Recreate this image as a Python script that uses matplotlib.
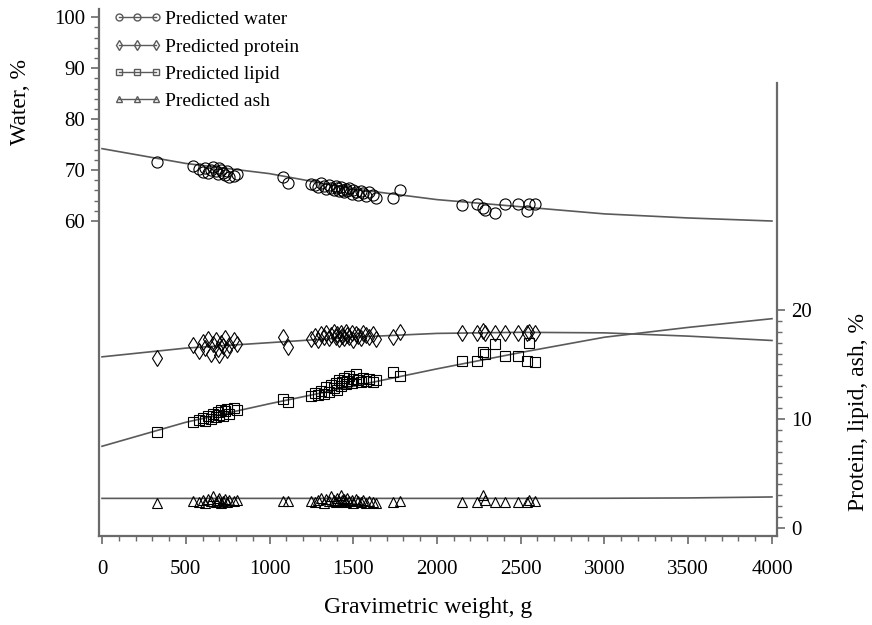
import matplotlib.pyplot as plt
from matplotlib.lines import Line2D
from matplotlib.ticker import FixedLocator

plt.rcParams['font.family'] = ['Liberation Serif', 'DejaVu Serif']

# fish weights (g), shared by all four components
weights = [330,
           545, 580, 600, 615, 630, 650, 665, 680, 690, 700, 710, 720, 735, 745, 760, 790, 805,
           1079, 1110,
           1245, 1270, 1290, 1310, 1325, 1340, 1355, 1370, 1385, 1395, 1405, 1415, 1425, 1435,
           1445, 1455, 1465, 1475, 1490, 1500, 1515, 1530, 1545, 1560, 1575, 1595, 1615, 1635,
           1737, 1779,
           2147, 2241, 2277, 2287, 2346, 2406, 2486, 2540, 2552, 2585]

water = [71.6,
         70.8, 70.3, 69.6, 70.5, 69.4, 70.1, 70.6, 69.8, 69.2, 70.4, 70.0, 69.5, 69.0, 69.9, 68.6, 68.9, 69.3,
         68.7, 67.5,
         67.2, 67.0, 66.6, 67.4, 66.8, 66.3, 67.0, 66.5, 66.0, 66.9, 66.4, 65.8, 66.6, 66.1,
         65.6, 66.3, 65.9, 66.5, 65.4, 66.0, 65.7, 65.2, 65.9, 65.5, 64.9, 65.6, 65.1, 64.6,
         64.5, 66.0,
         63.1, 63.3, 62.5, 62.2, 61.5, 63.3, 63.3, 62.0, 63.3, 63.3]

protein = [15.6,
           16.8, 16.2, 17.1, 16.5, 17.3, 16.0, 16.9, 17.2, 16.4, 15.9, 17.0, 16.7, 17.4, 16.3, 16.8, 17.2, 16.9,
           17.5, 16.6,
           17.3, 17.6, 17.2, 17.8, 17.5, 17.9, 17.4, 17.7, 18.0, 17.5, 17.8, 17.3, 17.9, 17.6,
           17.4, 18.0, 17.7, 17.5, 17.9, 17.2, 17.8, 17.6, 17.4, 17.9, 17.7, 17.5, 17.8, 17.3,
           17.5, 18.0,
           17.9, 17.9, 18.1, 17.9, 17.9, 17.9, 17.9, 17.9, 18.0, 17.9]

lipid = [8.8,
         9.7, 9.9, 10.1, 9.8, 10.3, 10.0, 10.5, 10.2, 10.6, 10.4, 10.8, 10.3, 10.7, 10.9, 10.5, 11.0, 10.8,
         11.8, 11.6,
         12.1, 12.4, 12.2, 12.6, 12.3, 12.9, 12.5, 13.1, 12.8, 13.3, 12.7, 13.6, 13.0, 13.4,
         13.8, 13.2, 13.5, 13.9, 13.3, 13.7, 14.1, 13.6, 13.4, 13.8, 13.5, 13.7, 13.4, 13.6,
         14.3, 13.9,
         15.3, 15.3, 16.1, 16.0, 16.9, 15.8, 15.8, 15.3, 17.0, 15.2]

ash = [2.3,
       2.5, 2.4, 2.6, 2.3, 2.7, 2.5, 2.9, 2.4, 2.6, 2.8, 2.3, 2.5, 2.7, 2.4, 2.6, 2.5, 2.6,
       2.5, 2.5,
       2.5, 2.4, 2.6, 2.8, 2.3, 2.7, 2.5, 2.9, 2.6, 2.4, 2.8, 2.5, 3.0, 2.6,
       2.7, 2.4, 2.8, 2.5, 2.6, 2.3, 2.7, 2.5, 2.4, 2.6, 2.3, 2.5, 2.4, 2.3,
       2.4, 2.5,
       2.4, 2.4, 3.0, 2.6, 2.4, 2.4, 2.4, 2.4, 2.6, 2.5]

# predicted curves
grid = [0, 500, 1000, 1500, 2000, 2500, 3000, 3500, 4000]
pred_water = [74.2, 71.3, 69.3, 66.3, 64.2, 62.8, 61.4, 60.6, 60.0]
pred_protein = [15.7, 16.5, 17.0, 17.5, 17.85, 17.95, 17.9, 17.6, 17.2]
pred_lipid = [7.5, 9.7, 11.4, 13.0, 14.6, 16.1, 17.5, 18.4, 19.2]
pred_ash = [2.72, 2.72, 2.72, 2.72, 2.72, 2.72, 2.73, 2.76, 2.85]

labels = ["Predicted water", "Predicted protein", "Predicted lipid", "Predicted ash"]

W, H = 872, 625
fig = plt.figure(figsize=(W / 100, H / 100), dpi=100)
ax = fig.add_axes([99 / W, 1 - 536 / H, (777 - 99) / W, (536 - 9) / H])
ax2 = ax.twinx()

line_c = '#5a5a5a'
spine_c = '#6a6a6a'
mk = dict(linestyle='none', mfc='none', mec='black', mew=0.8)

ax.plot(grid, pred_water, color=line_c, lw=1.2)
ax.plot(weights, water, marker='o', ms=8, **mk)

ax2.plot(grid, pred_protein, color=line_c, lw=1.2)
ax2.plot(grid, pred_lipid, color=line_c, lw=1.2)
ax2.plot(grid, pred_ash, color=line_c, lw=1.2)
ax2.plot(weights, protein, marker='d', ms=8.5, **mk)
ax2.plot(weights, lipid, marker='s', ms=7.5, **mk)
ax2.plot(weights, ash, marker='^', ms=7.5, **mk)

ax.set_xlim(-18, 4030)
ax.set_ylim(-1.8, 101.6)
ax2.set_ylim(-0.73, 47.6)

ax.xaxis.set_major_locator(FixedLocator(range(0, 4001, 500)))
ax.xaxis.set_minor_locator(FixedLocator(range(0, 4001, 100)))
ax.yaxis.set_major_locator(FixedLocator([60, 70, 80, 90, 100]))
ax.yaxis.set_minor_locator(FixedLocator(range(60, 101, 2)))
ax2.yaxis.set_major_locator(FixedLocator([0, 10, 20]))
ax2.yaxis.set_minor_locator(FixedLocator(range(0, 21, 1)))

for a in (ax, ax2):
    a.tick_params(which='major', length=6, width=1.2, color=spine_c, labelsize=15, pad=4)
    a.tick_params(which='minor', length=3.5, width=1.0, color=spine_c)
    for s in a.spines.values():
        s.set_color(spine_c)
        s.set_linewidth(1.6)
ax.tick_params(axis='x', which='major', pad=11)

ax.spines['top'].set_visible(False)
ax.spines['right'].set_visible(False)
ax2.spines['top'].set_visible(False)
ax2.spines['left'].set_visible(False)
ax2.spines['bottom'].set_visible(False)
ax2.spines['right'].set_bounds(-0.73, 40.8)

handles = [Line2D([], [], color=line_c, lw=1, marker=m, ms=s, mfc='none', mec=line_c, mew=1)
           for m, s in [('o', 5), ('d', 5.5), ('s', 5), ('^', 5)]]
ax.legend(handles, labels, loc='upper left', bbox_to_anchor=(-0.005, 1.03), frameon=False,
          numpoints=3, handlelength=2.5, handletextpad=0.15, labelspacing=0.5, fontsize=14)

fig.text(20 / W, 1 - 102 / H, "Water, %", rotation=90, ha='center', va='center', fontsize=17)
fig.text(858 / W, 1 - 412 / H, "Protein, lipid, ash, %", rotation=90, ha='center', va='center', fontsize=17)
fig.text(428 / W, 1 - 607 / H, "Gravimetric weight, g", ha='center', va='center', fontsize=17)

fig.savefig('out.png', dpi=100)
